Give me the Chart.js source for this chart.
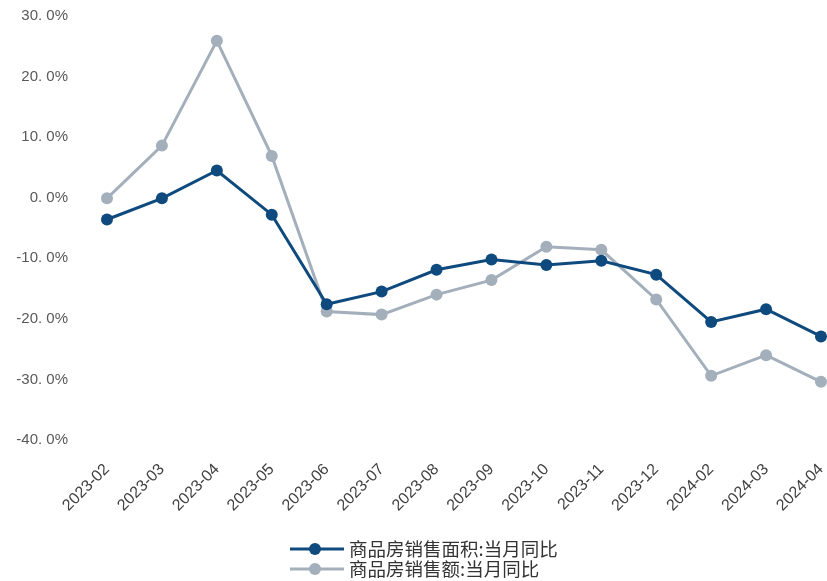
<!DOCTYPE html>
<html>
<head>
<meta charset="utf-8">
<script src="https://cdn.jsdelivr.net/npm/chart.js@4/dist/chart.umd.min.js"></script>
<style>
  html, body { margin: 0; padding: 0; background: #fff; }
  #wrap { width: 827px; height: 581px; position: relative; }
</style>
</head>
<body>
<div id="wrap"><canvas id="grafico"></canvas></div>
<script>
// meses del eje x
const meses = ['2023-02', '2023-03', '2023-04', '2023-05', '2023-06', '2023-07', '2023-08',
    '2023-09', '2023-10', '2023-11', '2023-12', '2024-02', '2024-03', '2024-04'];

// valores en %
const areaVentas = [-3.6, -0.1, 4.5, -2.8, -17.6, -15.5, -11.9, -10.2, -11.1, -10.4, -12.7, -20.5, -18.4, -22.9];
const montoVentas = [-0.1, 8.6, 25.9, 6.9, -18.8, -19.3, -16.0, -13.6, -8.1, -8.6, -16.8, -29.4, -26.0, -30.4];

const nombres = ['商品房销售面积:当月同比', '商品房销售额:当月同比'];
const colores = ['#0f4a7e', '#a4afbc'];

const yMin = -40;
const yMax = 30;
const yPaso = 10;

const fuente = '"Liberation Sans", Arial, "Noto Sans CJK SC", sans-serif';

// leyenda propia: dos filas, una debajo de la otra
const leyenda = {
    id: 'leyenda',
    afterDraw(chart) {
        const ctx = chart.ctx;
        ctx.save();
        chart.data.datasets.forEach((ds, i) => {
            const y = 549 + i * 20;
            ctx.strokeStyle = ds.borderColor;
            ctx.lineWidth = 3;
            ctx.beginPath();
            ctx.moveTo(290, y);
            ctx.lineTo(344, y);
            ctx.stroke();
            ctx.fillStyle = ds.borderColor;
            ctx.beginPath();
            ctx.arc(315, y, 6, 0, Math.PI * 2);
            ctx.fill();
            ctx.fillStyle = '#333333';
            ctx.font = '18.5px "Noto Sans CJK SC", sans-serif';
            ctx.textBaseline = 'middle';
            ctx.textAlign = 'left';
            ctx.fillText(ds.label, 349, y);
        });
        ctx.restore();
    }
};

const config = {
    type: 'line',
    data: {
        labels: meses,
        datasets: [
            {
                label: nombres[0],
                data: areaVentas,
                borderColor: colores[0],
                backgroundColor: colores[0],
                borderWidth: 3,
                pointRadius: 6,
                pointBorderWidth: 0,
                tension: 0
            },
            {
                label: nombres[1],
                data: montoVentas,
                borderColor: colores[1],
                backgroundColor: colores[1],
                borderWidth: 3,
                pointRadius: 6,
                pointBorderWidth: 0,
                tension: 0
            }
        ]
    },
    options: {
        responsive: true,
        maintainAspectRatio: false,
        animation: false,
        layout: { padding: { left: 0, right: 5, top: 16, bottom: 0 } },
        plugins: {
            legend: { display: false },
            tooltip: { enabled: false }
        },
        scales: {
            x: {
                offset: false,
                grid: { display: false },
                border: { display: false },
                ticks: {
                    minRotation: 45,
                    maxRotation: 45,
                    padding: 12,
                    color: '#404040',
                    font: { family: fuente, size: 16 }
                },
                afterFit: (scale) => {
                    scale.height = 141;
                    scale.paddingRight = 0;
                }
            },
            y: {
                min: yMin,
                max: yMax,
                grid: { display: false },
                border: { display: false },
                ticks: {
                    stepSize: yPaso,
                    padding: 31,
                    color: '#595959',
                    font: { family: fuente, size: 15 },
                    callback: (v) => v.toFixed(1).replace('.', '. ') + '%'
                },
                afterFit: (scale) => {
                    scale.width = 107;
                    scale.paddingTop = 0;
                    scale.paddingBottom = 0;
                }
            }
        }
    },
    plugins: [leyenda]
};

const chart = new Chart(document.getElementById('grafico'), config);
</script>
</body>
</html>
